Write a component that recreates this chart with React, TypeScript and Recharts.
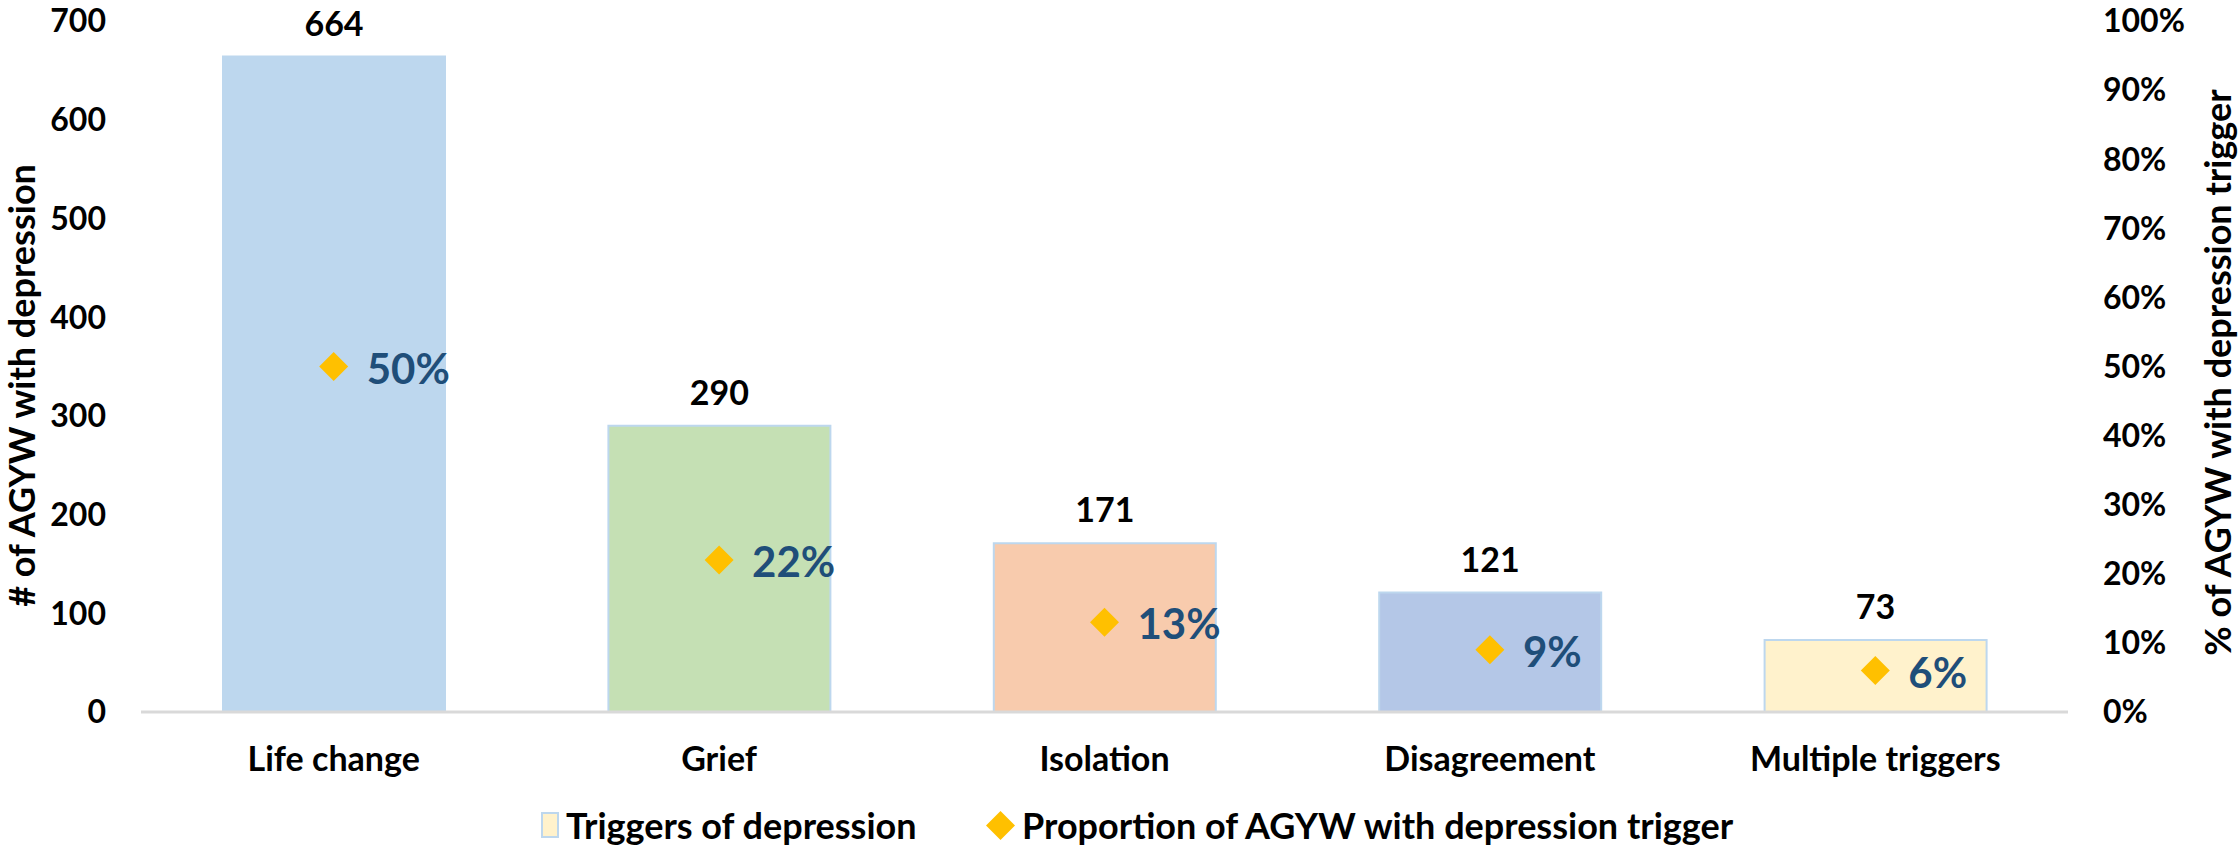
import React from "react";
import {
  Bar,
  Cell,
  ComposedChart,
  LabelList,
  Line,
  XAxis,
  YAxis,
} from "recharts";

const categories = [
  "Life change",
  "Grief",
  "Isolation",
  "Disagreement",
  "Multiple triggers",
];
const triggerCounts = [664, 290, 171, 121, 73];
const triggerShares = [50, 22, 13, 9, 6];
const barFills = ["#BDD7EE", "#C5E0B4", "#F8CBAD", "#B4C7E7", "#FFF2CC"];
const countTicks = [0, 100, 200, 300, 400, 500, 600, 700];
const shareTicks = [0, 10, 20, 30, 40, 50, 60, 70, 80, 90, 100];
const legendLabels = [
  "Triggers of depression",
  "Proportion of AGYW with depression trigger",
];

const FONT = "Lato, 'Open Sans', sans-serif";
const BORDER = "#BDD7EE";
const DIAMOND = "#FFC000";
const PCT_BLUE = "#1F4E79";

const data = categories.map((name, i) => ({
  name,
  count: triggerCounts[i],
  share: triggerShares[i],
}));

const tickStyle = { fontSize: 32, fontWeight: 700, fill: "#000", fontFamily: FONT };

function Diamond(props: any) {
  const { cx, cy, key } = props;
  if (cx == null || cy == null) return null;
  const r = 14.5;
  return (
    <polygon
      key={key}
      points={`${cx},${cy - r} ${cx + r},${cy} ${cx},${cy + r} ${cx - r},${cy}`}
      fill={DIAMOND}
    />
  );
}

function CountLabel(props: any) {
  const { x, y, width, value } = props;
  return (
    <text
      x={x + width / 2}
      y={y - 21}
      textAnchor="middle"
      fontSize={34}
      fontWeight={700}
      fontFamily={FONT}
      fill="#000"
    >
      {value}
    </text>
  );
}

function ShareLabel(props: any) {
  const { x, y, value } = props;
  return (
    <text
      x={x + 33}
      y={y + 17}
      textAnchor="start"
      fontSize={42}
      fontWeight={700}
      fontFamily={FONT}
      fill={PCT_BLUE}
    >
      {value}%
    </text>
  );
}

function AxisTitle(props: any) {
  const { viewBox, value, side } = props;
  const cx = side === "left" ? viewBox.x + 21 : viewBox.x + viewBox.width - 22;
  const cy = viewBox.y + viewBox.height / 2 + (side === "left" ? 19 : 6);
  return (
    <text
      x={cx}
      y={cy}
      transform={`rotate(-90 ${cx} ${cy})`}
      textAnchor="middle"
      dominantBaseline="central"
      fontSize={36}
      fontWeight={700}
      fontFamily={FONT}
      fill="#000"
    >
      {value}
    </text>
  );
}

const legendItem = {
  position: "absolute" as const,
  top: 807,
  height: 36,
  display: "flex",
  alignItems: "center",
  fontSize: 36,
  fontWeight: 700,
  color: "#000",
  whiteSpace: "nowrap" as const,
};

export default function App() {
  return (
    <div
      style={{
        position: "absolute",
        left: 0,
        top: 0,
        width: 2239,
        height: 847,
        background: "#fff",
        fontFamily: FONT,
      }}
    >
      <ComposedChart
        width={2239}
        height={847}
        data={data}
        margin={{ top: 21, right: 0, bottom: 0, left: 0 }}
      >
        <XAxis
          dataKey="name"
          height={135}
          tickLine={false}
          tickSize={0}
          tickMargin={35}
          axisLine={{ stroke: "#D9D9D9", strokeWidth: 3 }}
          tick={{ ...tickStyle, fontSize: 34 }}
          interval={0}
        />
        <YAxis
          yAxisId="left"
          width={141}
          domain={[0, 700]}
          ticks={countTicks}
          axisLine={false}
          tickLine={false}
          tickSize={0}
          tickMargin={35}
          tick={tickStyle}
          label={(p: any) => (
            <AxisTitle {...p} side="left" value="# of AGYW with depression" />
          )}
        />
        <YAxis
          yAxisId="right"
          orientation="right"
          width={171}
          domain={[0, 100]}
          ticks={shareTicks}
          tickFormatter={(v) => `${v}%`}
          axisLine={false}
          tickLine={false}
          tickSize={0}
          tickMargin={35}
          tick={{ ...tickStyle, textAnchor: "start" }}
          label={(p: any) => (
            <AxisTitle
              {...p}
              side="right"
              value="% of AGYW with depression trigger"
            />
          )}
        />
        <Bar
          yAxisId="left"
          dataKey="count"
          barSize={222}
          stroke={BORDER}
          strokeWidth={2}
          isAnimationActive={false}
        >
          {data.map((d, i) => (
            <Cell key={d.name} fill={barFills[i]} />
          ))}
          <LabelList dataKey="count" content={CountLabel} />
        </Bar>
        <Line
          yAxisId="right"
          dataKey="share"
          stroke="none"
          dot={Diamond}
          activeDot={false}
          isAnimationActive={false}
        >
          <LabelList dataKey="share" content={ShareLabel} />
        </Line>
      </ComposedChart>

      {/* legend */}
      <div style={{ ...legendItem, left: 541 }}>
        <span
          style={{
            width: 18,
            height: 26,
            background: barFills[4],
            border: `2px solid ${BORDER}`,
            marginRight: 7,
            boxSizing: "border-box",
          }}
        />
        <span>{legendLabels[0]}</span>
      </div>
      <div style={{ ...legendItem, left: 986 }}>
        <svg width={29} height={29} style={{ marginRight: 7 }}>
          <polygon points="14.5,0 29,14.5 14.5,29 0,14.5" fill={DIAMOND} />
        </svg>
        <span>{legendLabels[1]}</span>
      </div>
    </div>
  );
}
